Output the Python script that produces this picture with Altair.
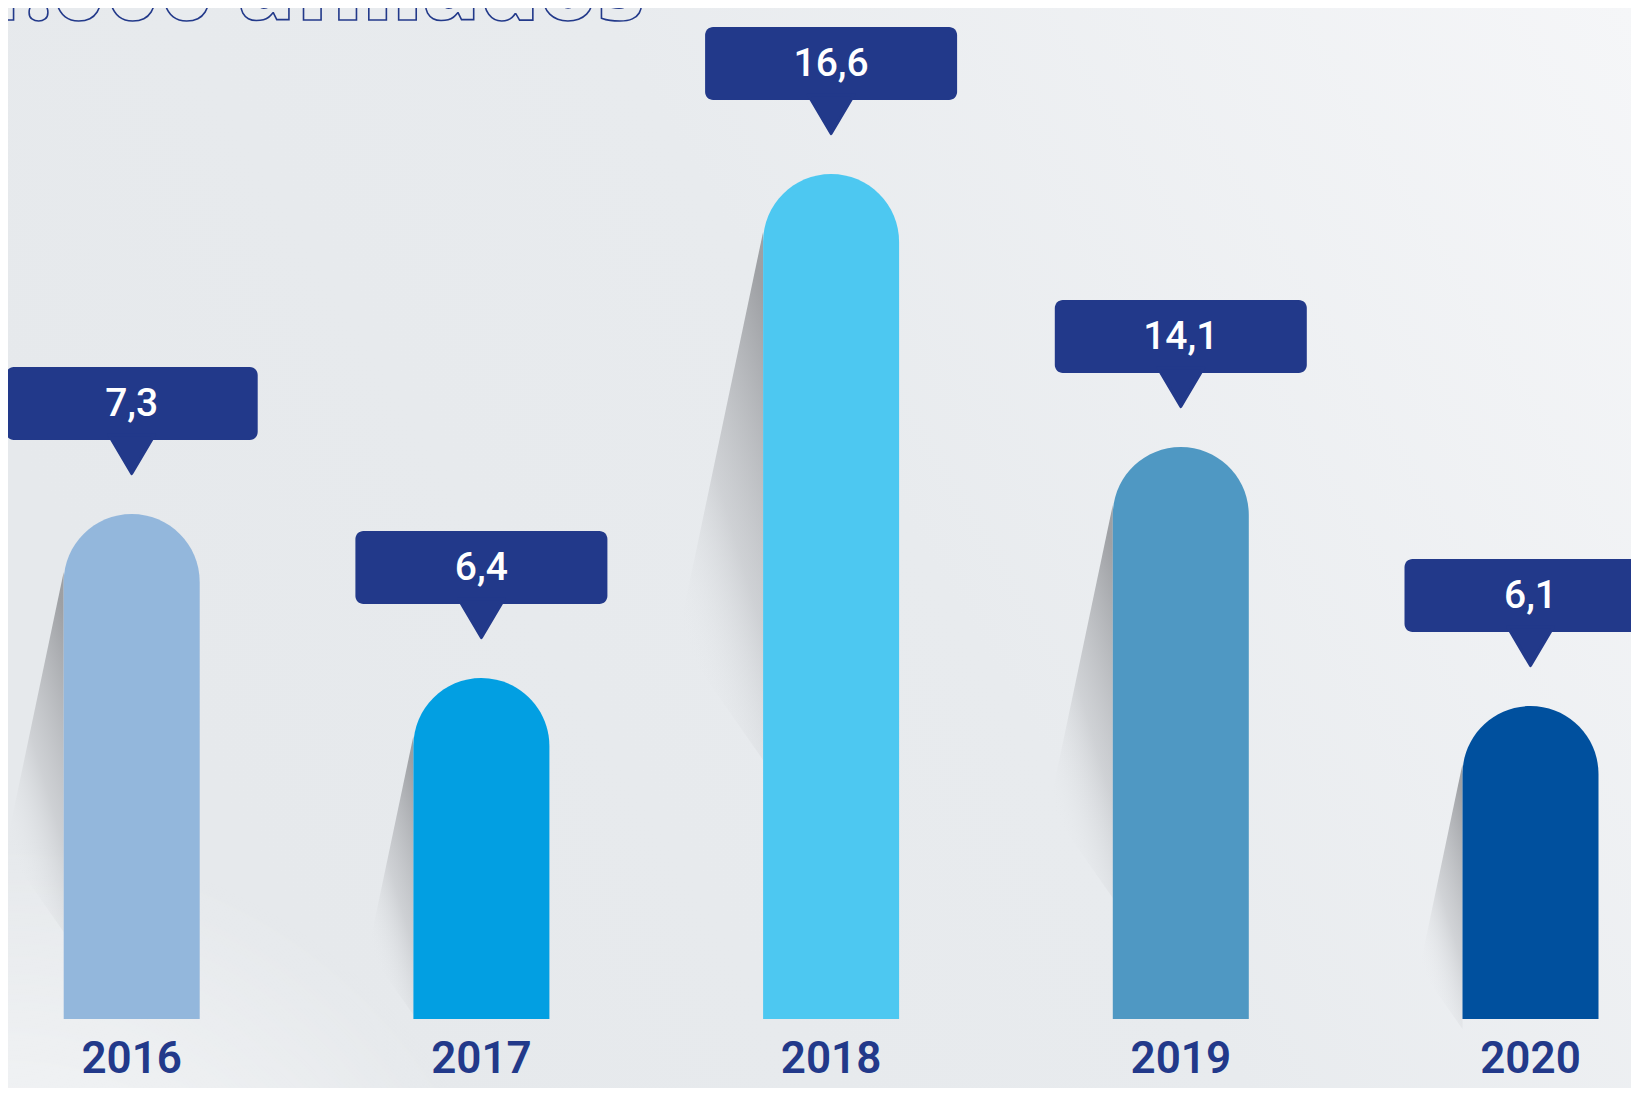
import altair as alt
import pandas as pd

# ---------------- data ----------------
years = ["2016", "2017", "2018", "2019", "2020"]
values = [7.3, 6.4, 16.6, 14.1, 6.1]
value_labels = ["7,3", "6,4", "16,6", "14,1", "6,1"]
# drawn length of each bar in the infographic (picture pixels; the artwork is not proportional)
bar_lengths = [505, 341, 845, 572, 313]
bar_colors = ["#93b7dc", "#029fe2", "#4dc8f1", "#4f98c3", "#00509e"]
title_text = "1.000 afiliados"

# ---------------- layout / style constants ----------------
NAVY = "#22398a"
W, H = 1623, 1080
STEP = 349.7          # px between bar centres
X0 = 123.7            # px of first bar centre
BASE = 1011           # px of bar baseline
HALF_BAR = 68 / STEP
HALF_BOX = 126 / STEP
GAP = 40              # bar top -> pointer tip
FONT_NUM = "Roboto, sans-serif"

xscale = alt.Scale(domain=[-X0 / STEP, (W - X0) / STEP], nice=False, zero=False)
yscale = alt.Scale(domain=[BASE - H, BASE], nice=False, zero=False)

rows = []
for i, (yr, v, lab, ln) in enumerate(zip(years, values, value_labels, bar_lengths)):
    tip = ln + GAP
    rows.append(dict(year=yr, value=v, label=lab, length=ln, idx=i,
                     xl=i - HALF_BAR, xr=i + HALF_BAR,
                     bl=i - HALF_BOX, br=i + HALF_BOX,
                     tip=tip, ptr=tip + 5, boxb=tip + 34, boxt=tip + 107,
                     boxm=tip + 70.5, zero=0, ylab=-41))
df = pd.DataFrame(rows)

shadow_rows = []
for i, (yr, ln) in enumerate(zip(years, bar_lengths)):
    xl = i - HALF_BAR
    top = ln - 58
    dy = 85 + 0.38 * ln
    dx = 0.21 * dy / STEP
    shadow_rows += [
        dict(year=yr, sy=top, sx=xl, sx2=xl),
        dict(year=yr, sy=top - dy, sx=xl - dx, sx2=xl),
        dict(year=yr, sy=top - 1.3 * dy, sx=xl, sx2=xl),
    ]
sdf = pd.DataFrame(shadow_rows)

one = pd.DataFrame({"a": [0]})

bg = alt.Chart(one).mark_rect(
    color=alt.Gradient(
        gradient="linear", x1=0, y1=0.4, x2=1, y2=0,
        stops=[alt.GradientStop(color="#e6e9ec", offset=0),
               alt.GradientStop(color="#e8ebee", offset=0.45),
               alt.GradientStop(color="#f5f6f8", offset=1)])
).encode(x=alt.value(0), x2=alt.value(W), y=alt.value(0), y2=alt.value(H))

bg2 = alt.Chart(one).mark_rect(
    color=alt.Gradient(
        gradient="radial", x1=0, y1=1, r1=0, x2=0, y2=1, r2=0.32,
        stops=[alt.GradientStop(color="rgba(255,255,255,0.8)", offset=0),
               alt.GradientStop(color="rgba(255,255,255,0)", offset=1)])
).encode(x=alt.value(0), x2=alt.value(W), y=alt.value(0), y2=alt.value(H))

shadows = alt.Chart(sdf).mark_area(
    orient="horizontal",
    color=alt.Gradient(
        gradient="linear", x1=0.8, y1=0, x2=0.25, y2=1,
        stops=[alt.GradientStop(color="rgba(145,147,151,0.85)", offset=0),
               alt.GradientStop(color="rgba(182,184,188,0.5)", offset=0.5),
               alt.GradientStop(color="rgba(232,235,238,0)", offset=0.9)])
).encode(
    x=alt.X("sx:Q", scale=xscale, axis=None),
    x2="sx2:Q",
    y=alt.Y("sy:Q", scale=yscale, axis=None),
    detail="year:N",
)

bars = alt.Chart(df).mark_rect(
    cornerRadiusTopLeft=68, cornerRadiusTopRight=68
).encode(
    x=alt.X("xl:Q", scale=xscale, axis=None), x2="xr:Q",
    y=alt.Y("length:Q", scale=yscale, axis=None), y2="zero:Q",
    color=alt.Color("year:N", scale=alt.Scale(domain=years, range=bar_colors), legend=None),
)

boxes = alt.Chart(df).mark_rect(cornerRadius=8, color=NAVY).encode(
    x=alt.X("bl:Q", scale=xscale, axis=None), x2="br:Q",
    y=alt.Y("boxt:Q", scale=yscale, axis=None), y2="boxb:Q",
)

pointers = alt.Chart(df).mark_point(
    shape="M -1 -1.5 L 1 -1.5 L 0 0.2 Z", size=2100, filled=True,
    color=NAVY, stroke=NAVY, strokeWidth=3, strokeJoin="round", opacity=1,
).encode(
    x=alt.X("idx:Q", scale=xscale, axis=None),
    y=alt.Y("ptr:Q", scale=yscale, axis=None),
)

vlabels = alt.Chart(df).mark_text(
    color="white", font=FONT_NUM, fontSize=39, fontWeight=500, baseline="middle"
).encode(
    x=alt.X("idx:Q", scale=xscale, axis=None),
    y=alt.Y("boxm:Q", scale=yscale, axis=None),
    text="label:N",
)

ylabels = alt.Chart(df).mark_text(
    color=NAVY, font=FONT_NUM, fontSize=44, fontWeight=600, baseline="middle"
).encode(
    x=alt.X("idx:Q", scale=xscale, axis=None),
    y=alt.Y("ylab:Q", scale=yscale, axis=None),
    text="year:N",
)

title = alt.Chart(pd.DataFrame({"t": [title_text], "x": [(637 - X0) / STEP], "y": [BASE - 12]})).mark_text(
    font="Open Sans", fontSize=92, fontWeight=800, align="right", baseline="alphabetic",
    fill="#e8ebee", stroke=NAVY, strokeWidth=1.6,
).encode(
    x=alt.X("x:Q", scale=xscale, axis=None),
    y=alt.Y("y:Q", scale=yscale, axis=None),
    text="t:N",
)

chart = alt.layer(bg, bg2, shadows, bars, boxes, pointers, vlabels, ylabels, title).properties(
    width=W, height=H, padding=0,
    autosize=alt.AutoSizeParams(type="none"),
    background="#e8ebee",
).configure_view(strokeWidth=0)

chart.save("out.html", embed_options={"renderer": "svg", "actions": False})
